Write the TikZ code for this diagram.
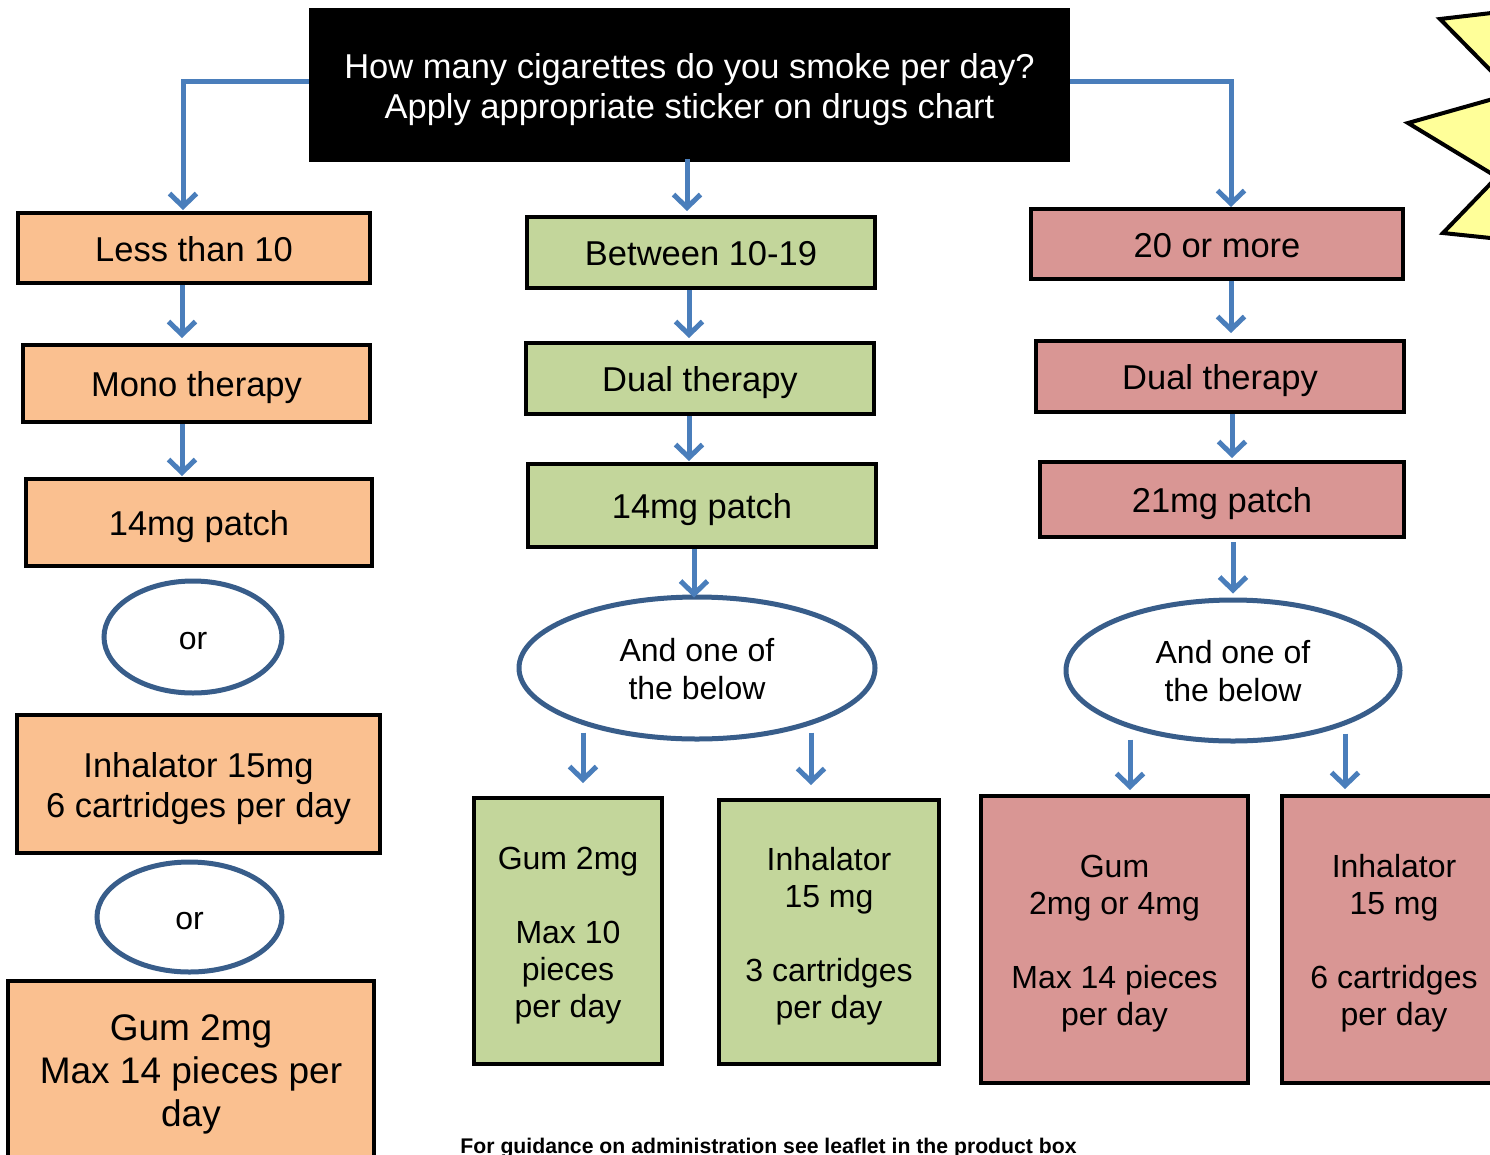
\documentclass[tikz,border=0pt]{standalone}
\usepackage{fontspec}
\setmainfont{Liberation Sans}
\usetikzlibrary{shapes.geometric,arrows.meta,calc}
\definecolor{orangeF}{HTML}{FAC090}
\definecolor{greenF}{HTML}{C3D69B}
\definecolor{redF}{HTML}{D99694}
\definecolor{arrowBlue}{HTML}{4A7EBB}
\definecolor{ellBorder}{HTML}{385D8A}
\definecolor{starF}{HTML}{FFFF99}
\newcommand\mytopstrut{\rule{0pt}{1.0em}}
\newcommand\mybotstrut{\rule[-0.22em]{0pt}{0.22em}}
\begin{document}
\begin{tikzpicture}[x=1pt,y=-1pt,
  box/.style={draw=black,line width=4pt,rectangle,inner sep=0pt,align=center,
    font=\fontsize{34.5}{40}\selectfont},
  obox/.style={box,fill=orangeF},
  gbox/.style={box,fill=greenF},
  rbox/.style={box,fill=redF},
  gtall/.style={box,fill=greenF,font=\fontsize{32}{37}\selectfont},
  rtall/.style={box,fill=redF,font=\fontsize{32}{37}\selectfont},
  ell/.style={ellipse,draw=ellBorder,line width=5pt,fill=white,inner sep=0pt,align=center,
    font=\fontsize{32}{38}\selectfont},
  arr/.style={draw=arrowBlue,line width=5pt,-{Straight Barb[length=13pt,width=27pt]}}
]
\useasboundingbox (0,0) rectangle (1490,1154);
\clip (0,0) rectangle (1490,1154);

% star (partly outside the picture)
\draw[fill=starF,line width=4pt,line join=miter]
  (1500,12) -- (1440,19) -- (1500,80) -- (1500,97) -- (1408,123) -- (1497,177)
  -- (1443,233) -- (1500,239) -- cycle;

% top box
\node[box,fill=black,text=white,minimum width=757pt,minimum height=150pt]
  (top) at (689.5,85) {\mytopstrut How many cigarettes do you smoke per day?\\Apply appropriate sticker on drugs chart\mybotstrut};

% left column
\node[obox,minimum width=352pt,minimum height=70pt] (lt10) at (194,248) {\mytopstrut Less than 10\mybotstrut};
\node[obox,minimum width=347pt,minimum height=77pt] (mono) at (196.5,383.5) {\mytopstrut Mono therapy\mybotstrut};
\node[obox,minimum width=346pt,minimum height=87pt] (p14L) at (199,522.5) {\mytopstrut 14mg patch\mybotstrut};
\node[ell,minimum width=178pt,minimum height=112pt] (or1) at (193,637) {\mytopstrut or\mybotstrut};
\node[obox,minimum width=363pt,minimum height=138pt] (inhL) at (198.5,784) {\mytopstrut Inhalator 15mg\\6 cartridges per day\mybotstrut};
\node[ell,minimum width=185pt,minimum height=110pt] (or2) at (189.5,917) {\mytopstrut or\mybotstrut};
\node[obox,minimum width=366pt,minimum height=177pt,font=\fontsize{37}{43}\selectfont]
  (gumL) at (191,1069) {\mytopstrut Gum 2mg\\Max 14 pieces per\\day\mybotstrut};

% middle column
\node[gbox,minimum width=348pt,minimum height=71pt] (b1019) at (701,252.5) {\mytopstrut Between 10-19\mybotstrut};
\node[gbox,minimum width=348pt,minimum height=71pt] (dualM) at (700,378.5) {\mytopstrut Dual therapy\mybotstrut};
\node[gbox,minimum width=348pt,minimum height=83pt] (p14M) at (702,505.5) {\mytopstrut 14mg patch\mybotstrut};
\node[ell,minimum width=356pt,minimum height=142pt] (ellM) at (697,668) {\mytopstrut And one of\\the below\mybotstrut};
\node[gtall,minimum width=188pt,minimum height=266pt] (gumM) at (568,931) {\mytopstrut Gum 2mg\\[37pt]Max 10\\pieces\\per day\mybotstrut};
\node[gtall,minimum width=220pt,minimum height=264pt] (inhM) at (829,932) {\mytopstrut Inhalator\\15 mg\\[37pt]3 cartridges\\per day\mybotstrut};

% right column
\node[rbox,minimum width=372pt,minimum height=70pt] (m20) at (1217,244) {\mytopstrut 20 or more\mybotstrut};
\node[rbox,minimum width=368pt,minimum height=71pt] (dualR) at (1220,376.5) {\mytopstrut Dual therapy\mybotstrut};
\node[rbox,minimum width=364pt,minimum height=75pt] (p21) at (1222,499.5) {\mytopstrut 21mg patch\mybotstrut};
\node[ell,minimum width=334pt,minimum height=141pt] (ellR) at (1233,670.5) {\mytopstrut And one of\\the below\mybotstrut};
\node[rtall,minimum width=267pt,minimum height=287pt] (gumR) at (1114.5,939.5) {\mytopstrut Gum\\2mg or 4mg\\[37pt]Max 14 pieces\\per day\mybotstrut};
\node[rtall,minimum width=224pt,minimum height=287pt] (inhR) at (1394,939.5) {\mytopstrut Inhalator\\15 mg\\[37pt]6 cartridges\\per day\mybotstrut};

% footer
\node[anchor=base,font=\bfseries\fontsize{21.2}{24}\selectfont,inner sep=0pt] (foot) at (768.5,1153)
  {For guidance on administration see leaflet in the product box};

% connectors
\draw[arr,shorten >=1pt] ([yshift=4pt]top.west) -| (lt10.north -| 183,0);
\draw[arr,shorten <=-3pt,shorten >=4pt] (top.south -| 687,0) -- (b1019.north -| 687,0);
\draw[arr,shorten >=0pt] ([yshift=4pt]top.east) -| (m20.north -| 1231,0);

\draw[arr,shorten >=5pt] (lt10.south -| 182,0) -- (mono.north -| 182,0);
\draw[arr,shorten >=1pt] (mono.south -| 182,0) -- (p14L.north -| 182,0);

\draw[arr,shorten >=3pt] (b1019.south -| 689,0) -- (dualM.north -| 689,0);
\draw[arr,shorten >=1pt] (dualM.south -| 689,0) -- (p14M.north -| 689,0);
\draw[arr,shorten >=-3pt] (p14M.south -| 694,0) -- (ellM.north -| 694,0);
\draw[arr,shorten <=-9pt,shorten >=13pt] (ellM.south -| 583,0) -- (gumM.north -| 583,0);
\draw[arr,shorten <=-9pt,shorten >=13pt] (ellM.south -| 811,0) -- (inhM.north -| 811,0);

\draw[arr,shorten >=6pt] (m20.south -| 1231,0) -- (dualR.north -| 1231,0);
\draw[arr,shorten >=2pt] (dualR.south -| 1232,0) -- (p21.north -| 1232,0);
\draw[arr,shorten <=3pt,shorten >=4pt] (p21.south -| 1233,0) -- (ellR.north -| 1233,0);
\draw[arr,shorten <=-4pt,shorten >=4pt] (ellR.south -| 1130,0) -- (gumR.north -| 1130,0);
\draw[arr,shorten <=-10pt,shorten >=5pt] (ellR.south -| 1345,0) -- (inhR.north -| 1345,0);
\end{tikzpicture}
\end{document}
